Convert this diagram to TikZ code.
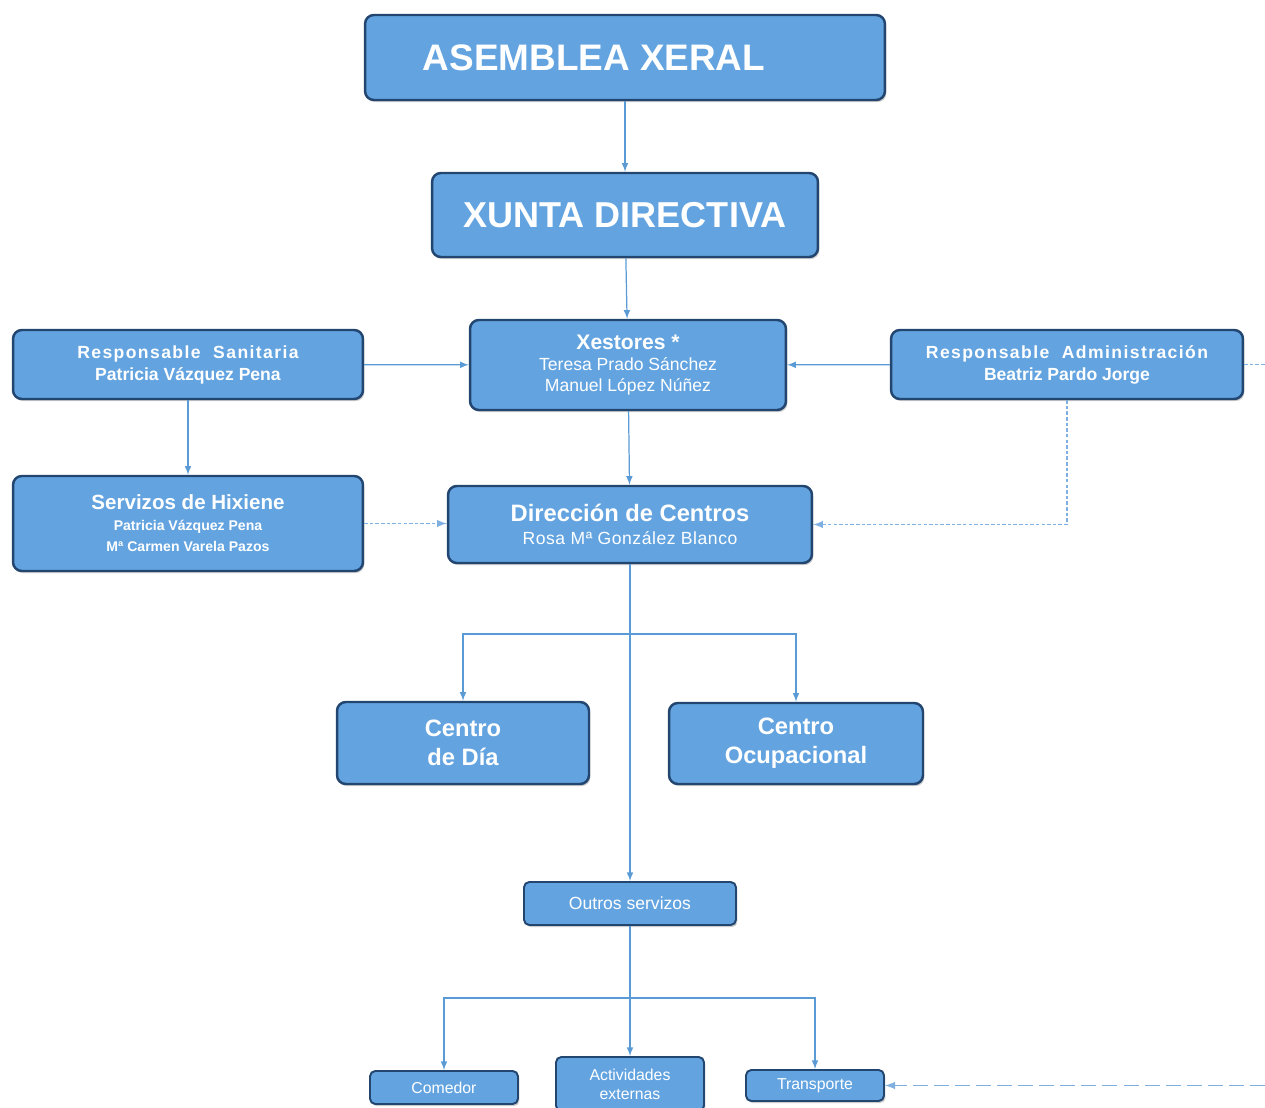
\documentclass[tikz,border=0pt]{standalone}
\usepackage{fontspec}
\setmainfont{Liberation Sans}
\usepackage{tikz}
\usetikzlibrary{shapes,arrows}
\usetikzlibrary{calc}
\usetikzlibrary{positioning,shadows}
\definecolor{boxblue}{RGB}{99,164,224}
\definecolor{boxedge}{RGB}{34,70,112}
\definecolor{linkblue}{RGB}{91,155,213}
\definecolor{dashblue}{RGB}{128,176,226}
\newcommand{\spaced}[2][8]{{\addfontfeature{LetterSpace=#1}#2}}

\begin{document}
\begin{tikzpicture}[x=0.02cm,y=-0.02cm,
	main_box/.style={rectangle,rounded corners=5pt,fill=boxblue,draw=boxedge,line width=1.4pt,text=white,inner sep=1pt,
		drop shadow={shadow xshift=0.8pt,shadow yshift=-1.2pt,opacity=0.4}},
	small_box/.style={main_box,rounded corners=3pt,line width=1.1pt},
	link/.style={draw=linkblue,line width=0.7pt,-latex},
	dash_link/.style={link,draw=dashblue,line width=0.9pt,dash pattern=on 2pt off 1.2pt},
	long_dash/.style={link,draw=dashblue,line width=1pt,dash pattern=on 8.5pt off 3.5pt}]
	\useasboundingbox (0,0) rectangle (1265,1108);
	% top of the chart
	\node[main_box,minimum width=10.4cm,minimum height=1.7cm,font=\bfseries\fontsize{21}{25}\selectfont](1) at (625,57.5){ASEMBLEA XERAL\hspace*{1.24cm}};
	\node[main_box,minimum width=7.72cm,minimum height=1.68cm,font=\bfseries\fontsize{20.5}{25}\selectfont](2) at (625,215){XUNTA DIRECTIVA};
	\node[main_box,minimum width=6.32cm,minimum height=1.8cm,align=center,font=\fontsize{10}{12}\selectfont](3) at (628,365)
		{{\bfseries\fontsize{12}{13}\selectfont Xestores *}\\Teresa Prado Sánchez\\Manuel López Núñez};
	\node[main_box,minimum width=7cm,minimum height=1.38cm,align=center,font=\bfseries\fontsize{10}{12.5}\selectfont](4) at (188,364.5)
		{\spaced{Responsable\ \ Sanitaria}\\Patricia Vázquez Pena};
	\node[main_box,minimum width=7.04cm,minimum height=1.38cm,align=center,font=\bfseries\fontsize{10}{12.5}\selectfont](5) at (1067,364.5)
		{\spaced{Responsable\ \ Administración}\\Beatriz Pardo Jorge};
	\node[main_box,minimum width=7cm,minimum height=1.9cm,align=center,font=\bfseries\fontsize{8}{12}\selectfont](6) at (188,523.5)
		{{\fontsize{11.7}{14}\selectfont Servizos de Hixiene}\\Patricia Vázquez Pena\\Mª Carmen Varela Pazos};
	\node[main_box,minimum width=7.28cm,minimum height=1.54cm,align=center,font=\fontsize{10}{13.5}\selectfont](7) at (630,524.5)
		{{\bfseries\fontsize{13.5}{15}\selectfont Dirección de Centros}\\\spaced[3]{Rosa Mª González Blanco}};
	% centros
	\node[main_box,minimum width=5.04cm,minimum height=1.64cm,align=center,font=\bfseries\fontsize{13.5}{16.5}\selectfont](8) at (463,743){Centro\\de Día};
	\node[main_box,minimum width=5.08cm,minimum height=1.62cm,align=center,font=\bfseries\fontsize{13.5}{16.5}\selectfont](9) at (796,743.5){Centro\\Ocupacional};
	% servizos
	\node[small_box,minimum width=4.24cm,minimum height=0.86cm,font=\fontsize{10}{12}\selectfont](10) at (630,903.5){Outros servizos};
	\node[small_box,minimum width=2.96cm,minimum height=0.66cm,font=\fontsize{9}{11}\selectfont](11) at (444,1087.5){Comedor};
	\node[small_box,minimum width=2.96cm,minimum height=1.08cm,align=center,font=\fontsize{9}{10.8}\selectfont](12) at (630,1084){Actividades\\externas};
	\node[small_box,minimum width=2.76cm,minimum height=0.62cm,font=\fontsize{9}{11}\selectfont](13) at (815,1085.5){Transporte};
	\coordinate (b1) at (630,634);
	\coordinate (b2) at (630,998);
	\coordinate (e1) at (1265,364.5);
	\coordinate (e2) at (1265,1085.5);
	\path[every edge/.style={link}]
	(1) edge (2)
	(2) edge (3)
	(4) edge (3)
	(5) edge (3)
	(4) edge (6)
	(3) edge (7)
	(7) edge (10)
	(10) edge (12);
	\draw[link] (b1) -| (8.north);
	\draw[link] (b1) -| (9.north);
	\draw[link] (b2) -| (11.north);
	\draw[link] (b2) -| (13.north);
	\draw[dash_link] (6.east) -- (6.east -| 7.west);
	\draw[dash_link] (5.south) |- (7.east);
	\draw[dash_link,-] (5.east) -- (e1);
	\draw[long_dash] (e2) -- (13.east);
\end{tikzpicture}
\end{document}
